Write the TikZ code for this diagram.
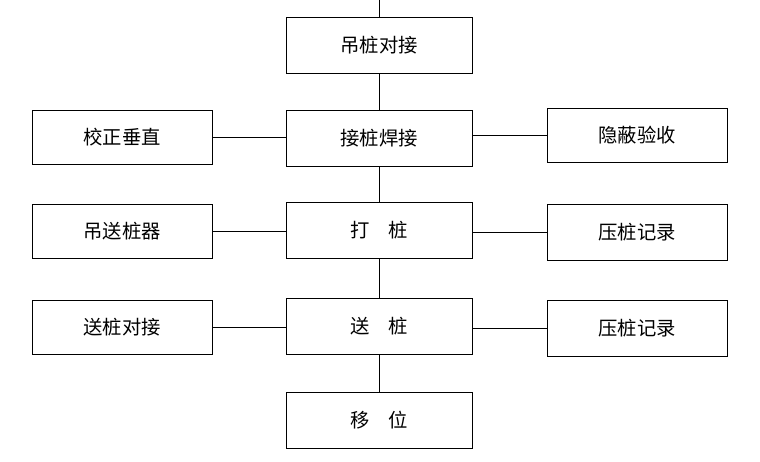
\documentclass[tikz,border=0pt]{standalone}
\usepackage{fontspec}
\newfontfamily\cjk{Noto Sans CJK SC}
\usetikzlibrary{positioning}

\begin{document}
\begin{tikzpicture}[x=0.02cm,y=-0.02cm,
    every node/.style={font=\cjk\fontsize{11}{13}\selectfont},
    mainbox/.style={draw,minimum width=3.72cm,minimum height=1.12cm,inner sep=0pt},
    sidebox/.style={draw,minimum width=3.6cm,minimum height=1.08cm,inner sep=0pt}]
    \useasboundingbox (0,0) rectangle (760,461);

    % Main column
    \coordinate (top) at (379,0);
    \node[mainbox] (s1) at (379,45) {吊桩对接};
    \node[mainbox] (s2) at (379,138) {接桩焊接};
    \node[mainbox] (s3) at (379,230) {打\quad 桩};
    \node[mainbox] (s4) at (379,326) {送\quad 桩};
    \node[mainbox] (s5) at (379,420) {移\quad 位};

    % Left column
    \node[sidebox] (l1) at (122,137) {校正垂直};
    \node[sidebox] (l2) at (122,231) {吊送桩器};
    \node[sidebox] (l3) at (122,327) {送桩对接};

    % Right column
    \node[sidebox] (r1) at (637,135) {隐蔽验收};
    \node[sidebox,minimum height=1.12cm] (r2) at (637,232) {压桩记录};
    \node[sidebox,minimum height=1.12cm] (r3) at (637,328) {压桩记录};

    % Connectors
    \draw (top) -- (s1);
    \foreach \i/\j in {1/2,2/3,3/4,4/5} {
      \draw (s\i) -- (s\j);
    }
    \foreach \i/\j in {1/2,2/3,3/4} {
      \draw (l\i.east) -- (s\j.west |- l\i.east);
      \draw (r\i.west) -- (s\j.east |- r\i.west);
    }
\end{tikzpicture}
\end{document}
